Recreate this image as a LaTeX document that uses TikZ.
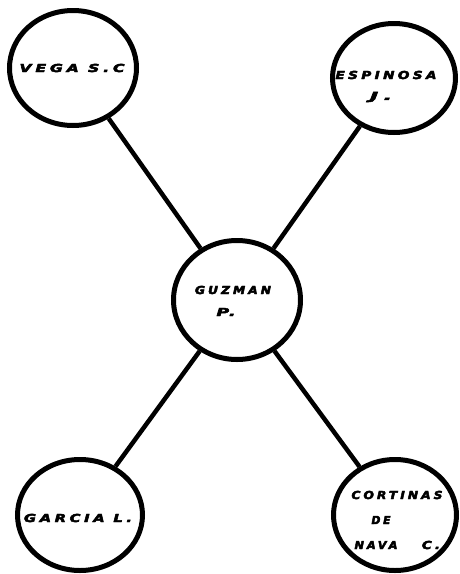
\documentclass[tikz,border=0pt]{standalone}
\usepackage{fontspec}
\setmainfont{DejaVu Sans}
\newfontfamily\blobfont{DejaVu Sans Bold Oblique}[LetterSpace=25,FakeBold=4]
\usetikzlibrary{shapes.geometric}
\newcommand{\blobw}[2]{\resizebox{#1}{\height}{#2}}
\tikzset{
  person/.style={draw=black, line width=5pt, ellipse, inner sep=0pt},
  link/.style={draw=black, line width=4.5pt},
  nametext/.style={font=\blobfont\fontsize{11}{13}\selectfont, inner sep=0pt, text=black}
}
\begin{document}
\begin{tikzpicture}[x=1pt,y=-1pt]
\useasboundingbox[fill=white] (0,0) rectangle (460,574);
\node[person, minimum width=127pt, minimum height=115pt] (vega) at (73,68) {};
\node[person, minimum width=123pt, minimum height=109pt] (espinosa) at (394,78) {};
\node[person, minimum width=127pt, minimum height=119pt] (guzman) at (237,300) {};
\node[person, minimum width=125pt, minimum height=111pt] (garcia) at (80,515) {};
\node[person, minimum width=123pt, minimum height=111pt] (cortinas) at (395,515) {};
\draw[link] (vega) -- (guzman);
\draw[link] (espinosa) -- (guzman);
\draw[link] (guzman) -- (garcia);
\draw[link] (guzman) -- (cortinas);
\node[nametext] (t1) at (72,68) {\blobw{105pt}{VEGA S.C}};
\node[nametext] (t2) at (386,75) {\blobw{101pt}{ESPINOSA}};
\node[nametext] (t3) at (381,97) {\blobw{22pt}{J.}};
\node[nametext] (t4) at (233,290) {\blobw{76pt}{GUZMAN}};
\node[nametext] (t5) at (226,312) {\blobw{19pt}{P.}};
\node[nametext] (t6) at (78,518) {\blobw{108pt}{GARCIA L.}};
\node[nametext] (t7) at (397,495) {\blobw{91pt}{CORTINAS}};
\node[nametext] (t8) at (381,520) {\blobw{19pt}{DE}};
\node[nametext] (t9) at (376,545) {\blobw{43pt}{NAVA}};
\node[nametext] (t10) at (431,545) {\blobw{18pt}{C.}};
\end{tikzpicture}
\end{document}
